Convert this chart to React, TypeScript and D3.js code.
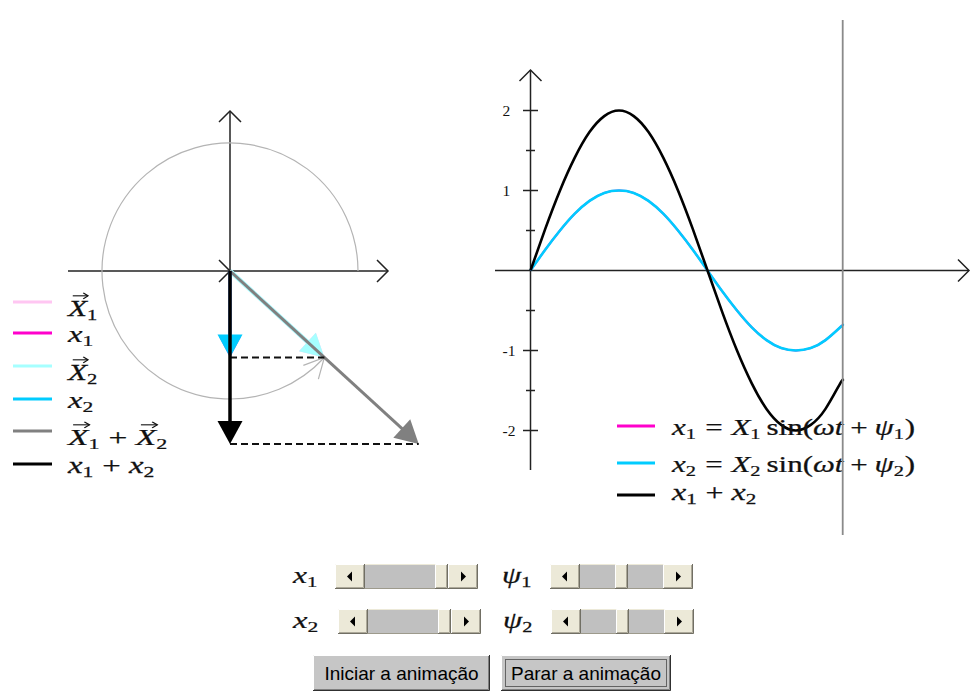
import React, { useMemo } from 'react';
import * as d3 from 'd3';

// ωt samples (degrees) up to the current instant of the animation
const PHASE_DEG = [0, 15, 30, 45, 60, 75, 90, 105, 120, 135, 150, 165, 180, 195, 210, 225, 240, 255, 270, 285, 300, 315, 317.5];
// x1(t) and x2(t) traces
const X1_SERIES = [0, 0.26, 0.5, 0.71, 0.87, 0.97, 1, 0.97, 0.87, 0.71, 0.5, 0.26, 0, -0.26, -0.5, -0.71, -0.87, -0.97, -1, -0.97, -0.87, -0.71, -0.68];
const X2_SERIES = [0, 0.26, 0.5, 0.71, 0.87, 0.97, 1, 0.97, 0.87, 0.71, 0.5, 0.26, 0, -0.26, -0.5, -0.71, -0.87, -0.97, -1, -0.97, -0.87, -0.71, -0.68];
// x1(t) + x2(t)
const SUM_SERIES = [0, 0.52, 1, 1.41, 1.73, 1.93, 2, 1.93, 1.73, 1.41, 1, 0.52, 0, -0.52, -1, -1.41, -1.73, -1.93, -2, -1.93, -1.73, -1.41, -1.38];

const Y_TICKS = [-2, -1, 1, 2];
const Y_MINOR_TICKS = [-1.5, -0.5, 0.5, 1.5];

// phasor amplitudes X1, X2 and initial phases ψ1, ψ2 (degrees)
const AMPLITUDES = [1, 1];
const PSI_DEG = [0, 0];
const OMEGA_T_DEG = 317.5;

const AMP_RANGE = [0, 1];
const PSI_RANGE = [-180, 180];

const BUTTON_LABELS = ['Iniciar a animação', 'Parar a animação'];

const COL = {
  X1: '#ffc6f2',
  x1: '#ff00cc',
  X2: '#a6ffff',
  x2: '#00ccff',
  Xs: '#808080',
  xs: '#000000',
};

type Tok = { t?: string; it?: boolean; sub?: boolean; vec?: boolean; gap?: number };

const T_X1V: Tok[] = [{ t: 'X', it: true, vec: true }, { t: '1', sub: true }];
const T_X2V: Tok[] = [{ t: 'X', it: true, vec: true }, { t: '2', sub: true }];
const T_x1: Tok[] = [{ t: 'x', it: true }, { t: '1', sub: true }];
const T_x2: Tok[] = [{ t: 'x', it: true }, { t: '2', sub: true }];
const T_psi1: Tok[] = [{ t: 'ψ', it: true }, { t: '1', sub: true }];
const T_psi2: Tok[] = [{ t: 'ψ', it: true }, { t: '2', sub: true }];
const T_XsV: Tok[] = [...T_X1V, { gap: 0.25 }, { t: '+' }, { gap: 0.25 }, ...T_X2V];
const T_xs: Tok[] = [...T_x1, { gap: 0.25 }, { t: '+' }, { gap: 0.25 }, ...T_x2];
const eqTokens = (n: string): Tok[] => [
  { t: 'x', it: true }, { t: n, sub: true }, { gap: 0.28 }, { t: '=' }, { gap: 0.28 },
  { t: 'X', it: true }, { t: n, sub: true }, { gap: 0.17 }, { t: 'sin(' },
  { t: 'ω', it: true }, { t: 't', it: true }, { gap: 0.22 }, { t: '+' }, { gap: 0.22 },
  { t: 'ψ', it: true }, { t: n, sub: true }, { t: ')' },
];

let measureCtx: CanvasRenderingContext2D | null = null;
function textWidth(s: string, size: number, italic: boolean) {
  if (!measureCtx) measureCtx = document.createElement('canvas').getContext('2d');
  measureCtx!.font = `${italic ? 'italic ' : ''}${size}px "Liberation Serif"`;
  return measureCtx!.measureText(s).width;
}

function MathLabel({ toks, x, y, width, size = 23 }: { toks: Tok[]; x: number; y: number; width: number; size?: number }) {
  const subSize = size * 0.66;
  let cur = 0;
  const placed: any[] = [];
  toks.forEach((tk) => {
    if (tk.gap != null) { cur += tk.gap * size; return; }
    const fs = tk.sub ? subSize : size;
    const w = textWidth(tk.t!, fs, !!tk.it);
    placed.push({ ...tk, x: cur, w, fs });
    cur += w + (tk.sub ? 0.5 : 0);
  });
  const sx = width / cur;
  const capH = size * 0.66;
  return (
    <g transform={`translate(${x},${y}) scale(${sx},1)`}>
      {placed.map((p, i) => (
        <g key={i}>
          <text x={p.x} y={p.sub ? size * 0.16 : 0} fontSize={p.fs} fontStyle={p.it ? 'italic' : 'normal'}
            fontFamily='"Liberation Serif", serif' fill="#111" stroke="#111" strokeWidth={0.25}>{p.t}</text>
          {p.vec && (
            <g stroke="#111" strokeWidth={1.1} fill="none">
              <line x1={p.x + p.w * 0.25} x2={p.x + p.w * 1.05} y1={-capH - 5} y2={-capH - 5} />
              <polyline points={`${p.x + p.w * 1.05 - 3.5},${-capH - 8} ${p.x + p.w * 1.05},${-capH - 5} ${p.x + p.w * 1.05 - 3.5},${-capH - 2}`} />
            </g>
          )}
        </g>
      ))}
    </g>
  );
}

const rad = (d: number) => (d * Math.PI) / 180;

function Chevron({ tx, ty, dirDeg, size = 11, spread = 45, color = '#222', width = 1.5 }:
  { tx: number; ty: number; dirDeg: number; size?: number; spread?: number; color?: string; width?: number }) {
  // open arrowhead at (tx,ty) pointing along dirDeg (screen angle)
  const back = rad(dirDeg + 180);
  const len = size / Math.cos(rad(spread));
  const p1 = [tx + len * Math.cos(back + rad(spread)), ty + len * Math.sin(back + rad(spread))];
  const p2 = [tx + len * Math.cos(back - rad(spread)), ty + len * Math.sin(back - rad(spread))];
  return <polyline points={`${p1} ${tx},${ty} ${p2}`} fill="none" stroke={color} strokeWidth={width} />;
}

function Arrow({ x0, y0, x1, y1, color, width, len = 23, half = 12.5 }: any) {
  const dx = x1 - x0, dy = y1 - y0;
  const L = Math.hypot(dx, dy) || 1;
  const ux = dx / L, uy = dy / L;
  const bx = x1 - ux * len, by = y1 - uy * len;
  const nx = -uy, ny = ux;
  const head = `${x1},${y1} ${bx + nx * half},${by + ny * half} ${bx - nx * half},${by - ny * half}`;
  return (
    <g>
      <line x1={x0} y1={y0} x2={x1 - ux * len * 0.5} y2={y1 - uy * len * 0.5} stroke={color} strokeWidth={width} />
      <polygon points={head} fill={color} />
    </g>
  );
}

function Bevel({ x, y, w, h, face }: { x: number; y: number; w: number; h: number; face: string }) {
  return (
    <g>
      <rect x={x} y={y} width={w} height={h} fill={face} />
      <polyline points={`${x + 0.5},${y + h - 1} ${x + 0.5},${y + 0.5} ${x + w - 1},${y + 0.5}`} fill="none" stroke="#ffffff" />
      <polyline points={`${x + 1},${y + h - 1.5} ${x + w - 1.5},${y + h - 1.5} ${x + w - 1.5},${y + 1}`} fill="none" stroke="#aca899" />
      <polyline points={`${x},${y + h - 0.5} ${x + w - 0.5},${y + h - 0.5} ${x + w - 0.5},${y}`} fill="none" stroke="#716f64" />
    </g>
  );
}

function ScrollBar({ x, y, t }: { x: number; y: number; t: number }) {
  const w = 143, h = 25, btn = 30, thumb = 13;
  const pos = d3.scaleLinear().domain([0, 1]).range([x + btn, x + w - btn - thumb])(t);
  const cy = y + h / 2;
  return (
    <g>
      <rect x={x} y={y} width={w} height={h} fill="#c0c0c0" />
      <line x1={x} x2={x + w} y1={y + 0.5} y2={y + 0.5} stroke="#ece9d8" />
      <line x1={x} x2={x + w} y1={y + h - 0.5} y2={y + h - 0.5} stroke="#9d9a8c" />
      <Bevel x={x} y={y} w={btn} h={h} face="#ece9d8" />
      <Bevel x={x + w - btn} y={y} w={btn} h={h} face="#ece9d8" />
      <Bevel x={pos} y={y} w={thumb} h={h} face="#ece9d8" />
      <polygon points={`${x + 12},${cy} ${x + 17},${cy - 5} ${x + 17},${cy + 5}`} fill="#000" />
      <polygon points={`${x + w - 12},${cy} ${x + w - 17},${cy - 5} ${x + w - 17},${cy + 5}`} fill="#000" />
    </g>
  );
}

function PushButton({ x, y, w, h, label, focused }: any) {
  return (
    <g>
      <rect x={x} y={y} width={w} height={h} fill="#c6c6c6" />
      <polyline points={`${x + 0.5},${y + h - 1} ${x + 0.5},${y + 0.5} ${x + w - 1},${y + 0.5}`} fill="none" stroke="#ffffff" />
      <polyline points={`${x + 1},${y + h - 1.5} ${x + w - 1.5},${y + h - 1.5} ${x + w - 1.5},${y + 1}`} fill="none" stroke="#808080" />
      <polyline points={`${x},${y + h - 0.5} ${x + w - 0.5},${y + h - 0.5} ${x + w - 0.5},${y}`} fill="none" stroke="#303030" />
      {focused && (
        <rect x={x + 4.5} y={y + 4.5} width={w - 9} height={h - 9} fill="none" stroke="#000" strokeDasharray="1,1" />
      )}
      <text x={x + w / 2} y={y + h / 2 + 7} textAnchor="middle" fontSize={19}
        fontFamily='"Liberation Sans", Arial, sans-serif' fill="#000">{label}</text>
    </g>
  );
}

export default function App() {
  // phasor diagram
  const O = { x: 230, y: 271 };
  const pr = d3.scaleLinear().domain([0, 1]).range([0, 128]);
  const tip = (amp: number, deg: number) => [O.x + pr(amp) * Math.cos(rad(deg)), O.y - pr(amp) * Math.sin(rad(deg))];
  const [t1x, t1y] = tip(AMPLITUDES[0], OMEGA_T_DEG + PSI_DEG[0]);
  const [t2x, t2y] = tip(AMPLITUDES[1], OMEGA_T_DEG + PSI_DEG[1]);
  const tsx = t1x + t2x - O.x, tsy = t1y + t2y - O.y;

  const arcPath = useMemo(() => {
    const p = d3.path();
    p.arc(O.x, O.y, pr(AMPLITUDES[1]), 0, -rad(OMEGA_T_DEG), true);
    return p.toString();
  }, []);
  const th = rad(OMEGA_T_DEG);
  const arcEnd = [O.x + pr(1) * Math.cos(th), O.y - pr(1) * Math.sin(th)];
  const travelDeg = (Math.atan2(-Math.cos(th), -Math.sin(th)) * 180) / Math.PI;

  // time plot
  const xT = d3.scaleLinear().domain([0, 360]).range([530.5, 884.5]);
  const yV = d3.scaleLinear().domain([-2, 2]).range([430.5, 110.5]);
  const mkLine = (vals: number[]) =>
    d3.line<number>().x((_, i) => xT(PHASE_DEG[i])).y((v) => yV(v)).curve(d3.curveNatural)(vals) || '';
  const cursorX = xT(OMEGA_T_DEG);

  const ampPos = d3.scaleLinear().domain(AMP_RANGE).range([0, 1]);
  const psiPos = d3.scaleLinear().domain(PSI_RANGE).range([0, 1]);

  const leftLegend = [
    { toks: T_X1V, color: COL.X1, y: 302, base: 14, w: 30 },
    { toks: T_x1, color: COL.x1, y: 333, base: 9, w: 26 },
    { toks: T_X2V, color: COL.X2, y: 366, base: 14, w: 30 },
    { toks: T_x2, color: COL.x2, y: 399, base: 9, w: 26 },
    { toks: T_XsV, color: COL.Xs, y: 431, base: 14, w: 100 },
    { toks: T_xs, color: COL.xs, y: 464, base: 9, w: 87 },
  ];
  const rightLegend = [
    { toks: eqTokens('1'), color: COL.x1, y: 426, base: 9, w: 243 },
    { toks: eqTokens('2'), color: COL.x2, y: 463, base: 9, w: 243 },
    { toks: T_xs, color: COL.xs, y: 495, base: 5, w: 85 },
  ];

  return (
    <div style={{ position: 'absolute', left: 0, top: 0, width: 971, height: 693, background: '#fff' }}>
      <svg width={971} height={693} style={{ display: 'block' }}>
        <rect width={971} height={693} fill="#fff" />

        {/* phasor diagram axes */}
        <g stroke="#222" strokeWidth={1.5}>
          <line x1={68} x2={388} y1={O.y} y2={O.y} />
          <line x1={O.x} x2={O.x} y1={111} y2={430} />
        </g>
        <Chevron tx={388} ty={O.y} dirDeg={0} />
        <Chevron tx={O.x} ty={111} dirDeg={-90} />
        <Chevron tx={O.x} ty={O.y} dirDeg={0} />

        {/* ωt sweep */}
        <path d={arcPath} fill="none" stroke="#b4b4b4" strokeWidth={1.2} />
        <Chevron tx={arcEnd[0]} ty={arcEnd[1]} dirDeg={travelDeg} size={20} spread={27} color="#b4b4b4" width={1.2} />

        {/* phasors */}
        <Arrow x0={O.x} y0={O.y} x1={t1x} y1={t1y} color={COL.X1} width={4} />
        <Arrow x0={O.x} y0={O.y} x1={t2x} y1={t2y} color={COL.X2} width={4.5} />
        <Arrow x0={O.x} y0={O.y} x1={tsx} y1={tsy} color={COL.Xs} width={3} />

        {/* projections */}
        <g stroke="#111" strokeWidth={2} strokeDasharray="7,4">
          <line x1={O.x} x2={t2x} y1={t2y} y2={t2y} />
          <line x1={O.x} x2={tsx} y1={tsy} y2={tsy} />
        </g>
        <Arrow x0={O.x} y0={O.y} x1={O.x} y1={t1y} color={COL.x1} width={3} len={21} half={11} />
        <Arrow x0={O.x} y0={O.y} x1={O.x} y1={t2y} color={COL.x2} width={3} />
        <Arrow x0={O.x} y0={O.y} x1={O.x} y1={tsy} color={COL.xs} width={3.5} />

        {/* left legend */}
        {leftLegend.map((r, i) => (
          <g key={i}>
            <line x1={13} x2={52} y1={r.y} y2={r.y} stroke={r.color} strokeWidth={3} />
            <MathLabel toks={r.toks} x={68} y={r.y + r.base} width={r.w} />
          </g>
        ))}

        {/* time plot axes */}
        <g stroke="#222" strokeWidth={1.5}>
          <line x1={495} x2={969} y1={yV(0)} y2={yV(0)} />
          <line x1={xT(0)} x2={xT(0)} y1={70} y2={470} />
          {Y_TICKS.map((v) => (
            <line key={v} x1={xT(0) - 7.5} x2={xT(0) + 7.5} y1={yV(v)} y2={yV(v)} />
          ))}
          {Y_MINOR_TICKS.map((v) => (
            <line key={v} x1={xT(0) - 4.5} x2={xT(0) + 4.5} y1={yV(v)} y2={yV(v)} />
          ))}
        </g>
        <Chevron tx={969} ty={yV(0)} dirDeg={0} />
        <Chevron tx={xT(0)} ty={70} dirDeg={-90} />
        {Y_TICKS.map((v) => (
          <text key={v} x={502.5} y={yV(v) + 5.5} fontSize={15.5} fontFamily='"Liberation Serif", serif' fill="#111">
            {v < 0 ? `-${-v}` : `${v}`}
          </text>
        ))}

        {/* traces */}
        <path d={mkLine(X1_SERIES)} fill="none" stroke={COL.x1} strokeWidth={2} />
        <path d={mkLine(X2_SERIES)} fill="none" stroke={COL.x2} strokeWidth={2.6} />
        <path d={mkLine(SUM_SERIES)} fill="none" stroke={COL.xs} strokeWidth={2.6} />

        {/* right legend */}
        {rightLegend.map((r, i) => (
          <g key={i}>
            <line x1={617} x2={655} y1={r.y} y2={r.y} stroke={r.color} strokeWidth={3} />
            <MathLabel toks={r.toks} x={672} y={r.y + r.base} width={r.w} />
          </g>
        ))}

        {/* current instant */}
        <line x1={cursorX} x2={cursorX} y1={20} y2={535} stroke="#8a8a8a" strokeWidth={1.8} />

        {/* controls */}
        <MathLabel toks={T_x1} x={293} y={583} width={25} />
        <ScrollBar x={335} y={564} t={ampPos(AMPLITUDES[0])} />
        <MathLabel toks={T_psi1} x={502} y={583} width={30} />
        <ScrollBar x={550} y={564} t={psiPos(PSI_DEG[0])} />
        <MathLabel toks={T_x2} x={293} y={628} width={26} />
        <ScrollBar x={338} y={609} t={ampPos(AMPLITUDES[1])} />
        <MathLabel toks={T_psi2} x={503} y={628} width={30} />
        <ScrollBar x={551} y={609} t={psiPos(PSI_DEG[1])} />

        <PushButton x={313} y={655} w={177} h={36} label={BUTTON_LABELS[0]} />
        <PushButton x={501} y={655} w={170} h={36} label={BUTTON_LABELS[1]} focused />
      </svg>
    </div>
  );
}
